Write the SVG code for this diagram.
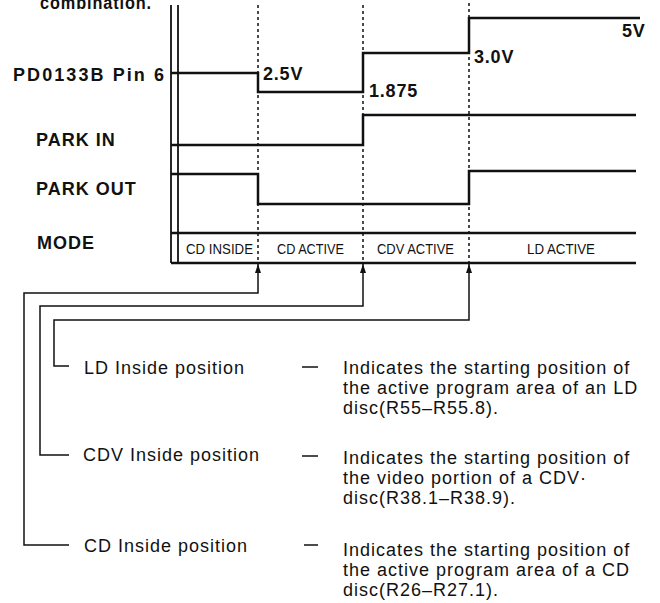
<svg xmlns="http://www.w3.org/2000/svg" width="660" height="603" viewBox="0 0 660 603">
<style>
.lbl{font-family:"Liberation Sans",Arial,sans-serif;font-size:18px;font-weight:bold;fill:#111;letter-spacing:1px}
.val{font-family:"Liberation Sans",Arial,sans-serif;font-size:18px;font-weight:bold;fill:#111;letter-spacing:0.8px}
.mode{font-family:"Liberation Sans",Arial,sans-serif;font-size:14px;fill:#111}
.txt{font-family:"Liberation Sans",Arial,sans-serif;font-size:18px;fill:#111;letter-spacing:1px}
.wave{fill:none;stroke:#111;stroke-width:2.5}
.axis{fill:none;stroke:#111;stroke-width:1.8}
.dash{fill:none;stroke:#111;stroke-width:1.5;stroke-dasharray:3 3}
.conn{fill:none;stroke:#111;stroke-width:1.5}
</style>
<defs>
<marker id="ah" markerWidth="9" markerHeight="6" refX="9" refY="3" orient="auto" markerUnits="userSpaceOnUse" viewBox="0 0 9 6">
<path d="M0,0 L9,3 L0,6 Z" fill="#111"/>
</marker>
</defs>
<rect width="660" height="603" fill="#fff"/>
<text class="lbl" x="40" y="9" textLength="112" lengthAdjust="spacingAndGlyphs">combination.</text>

<g id="axes">
<line class="axis" x1="171" y1="5" x2="171" y2="263"/>
<line class="axis" x1="178" y1="5" x2="178" y2="263"/>
<line class="dash" x1="258" y1="5" x2="258" y2="263"/>
<line class="dash" x1="363" y1="5" x2="363" y2="263"/>
<line class="dash" x1="469" y1="3" x2="469" y2="263"/>
</g>

<g id="pin6">
<text class="lbl" x="13" y="81" textLength="152" lengthAdjust="spacing">PD0133B  Pin 6</text>
<polyline class="wave" points="171,73 258,73 258,92 363,92 363,53 469,53 469,18 640,18"/>
<text class="val" x="263" y="80">2.5V</text>
<text class="val" x="369" y="97">1.875</text>
<text class="val" x="474" y="63">3.0V</text>
<text class="val" x="622" y="37">5V</text>
</g>

<g id="parkin">
<text class="lbl" x="36" y="146">PARK IN</text>
<polyline class="wave" points="171,145 363,145 363,115 636,115"/>
</g>

<g id="parkout">
<text class="lbl" x="36" y="195">PARK OUT</text>
<polyline class="wave" points="171,174 258,174 258,204 469,204 469,171 636,171"/>
</g>

<g id="mode">
<text class="lbl" x="37" y="249">MODE</text>
<line class="wave" x1="171" y1="233" x2="636" y2="233"/>
<line class="wave" x1="171" y1="263" x2="636" y2="263"/>
<text class="mode" x="186" y="254" textLength="67" lengthAdjust="spacingAndGlyphs">CD INSIDE</text>
<text class="mode" x="277" y="254" textLength="67" lengthAdjust="spacingAndGlyphs">CD ACTIVE</text>
<text class="mode" x="377" y="254" textLength="77" lengthAdjust="spacingAndGlyphs">CDV ACTIVE</text>
<text class="mode" x="527" y="254" textLength="68" lengthAdjust="spacingAndGlyphs">LD ACTIVE</text>
</g>

<g id="connectors">
<polyline class="conn" points="69,545 24,545 24,293 258,293 258,264" marker-end="url(#ah)"/>
<polyline class="conn" points="69,455 40,455 40,306 363,306 363,264" marker-end="url(#ah)"/>
<polyline class="conn" points="69,366 54,366 54,320 469,320 469,264" marker-end="url(#ah)"/>
</g>

<g id="ld">
<text class="txt" x="84" y="374">LD Inside position</text>
<line class="conn" x1="302" y1="367" x2="318" y2="367"/>
<text class="txt" x="343" y="374">Indicates the starting position of</text>
<text class="txt" x="343" y="394">the active program area of an LD</text>
<text class="txt" x="343" y="414">disc(R55–R55.8).</text>
</g>

<g id="cdv">
<text class="txt" x="83" y="461">CDV Inside position</text>
<line class="conn" x1="302" y1="456" x2="318" y2="456"/>
<text class="txt" x="343" y="464">Indicates the starting position of</text>
<text class="txt" x="343" y="484">the video portion of a CDV·</text>
<text class="txt" x="343" y="504">disc(R38.1–R38.9).</text>
</g>

<g id="cd">
<text class="txt" x="84" y="552">CD Inside position</text>
<line class="conn" x1="304" y1="545" x2="318" y2="545"/>
<text class="txt" x="343" y="556">Indicates the starting position of</text>
<text class="txt" x="343" y="576">the active program area of a CD</text>
<text class="txt" x="343" y="596">disc(R26–R27.1).</text>
</g>
</svg>
